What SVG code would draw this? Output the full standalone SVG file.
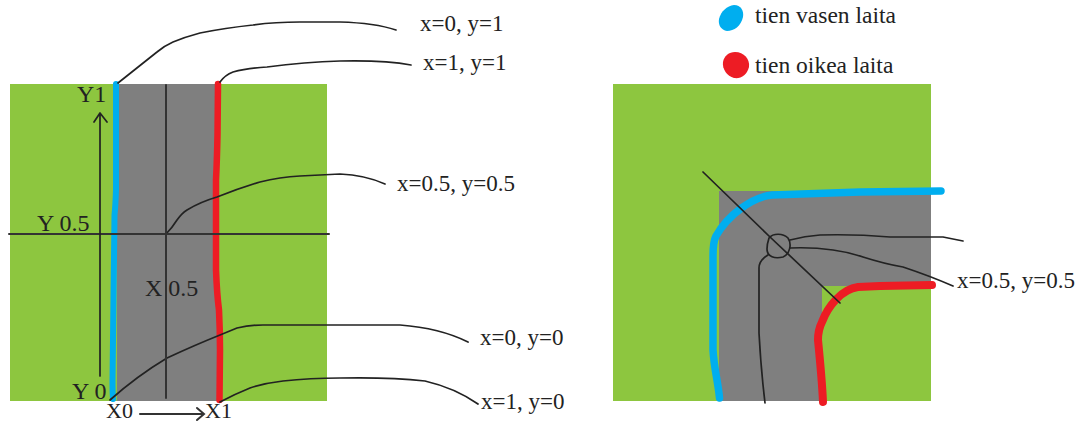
<svg xmlns="http://www.w3.org/2000/svg" width="1077" height="423" viewBox="0 0 1077 423">
<style>
.t{font-family:"Liberation Serif",serif;font-size:23px;fill:#222}
.c{font-size:24px}
.k{fill:none;stroke:#222;stroke-width:1.700;stroke-linecap:round;stroke-linejoin:round}
.kg{fill:none;stroke:#333;stroke-width:2;stroke-linecap:round}
.b{fill:none;stroke:#00aeef;stroke-linecap:round;stroke-linejoin:round}
.r{fill:none;stroke:#ed1c24;stroke-linecap:round;stroke-linejoin:round}
.g{fill:#8dc63f}
.d{fill:#7f7f7f}
</style>
<rect width="1077" height="423" fill="#fff"/>
<g id="left-road">
<rect class="g" x="10" y="84" width="317" height="317"/>
<rect class="d" x="117" y="84" width="100" height="317"/>
</g>
<g id="right-road">
<rect class="g" x="613" y="84" width="318" height="317"/>
<path class="d" d="M719 191H931V286H822V401H719Z"/>
</g>
<g id="connectors">
<path class="b" stroke-width="6" d="M116 84L116 190Q115.500 205 114.500 215L113.500 300L112.500 380Q112.500 392 113 399"/>
<path class="r" stroke-width="6.500" d="M218 84L217.500 135Q217 160 216 180L216 270Q217 295 219 310Q220 330 220 350L219.500 400"/>
<path class="k" d="M118 83L157 52Q164 46 173 42Q185 37 200 33Q225 28 253 25Q275 22 300 22L340 22Q375 23 396 30"/>
<path class="k" d="M220 82Q225 75 233 72Q247 68 267 67Q305 62 340 61Q385 60 411 65"/>
<path class="k" d="M166 234Q172 228 177 220Q182 213 187 210Q200 202 217 197Q240 188 260 182Q280 177 300 176L340 174Q365 175 385 184"/>
<path class="k" d="M110 400Q137 376 167 358Q195 345 220 335L237 328Q250 325 263 325L400 325Q440 328 468 342"/>
<path class="k" d="M220 402Q235 394 250 388Q265 383 283 381Q310 378 340 378Q390 377 425 381Q455 388 478 404"/>
<path class="kg" d="M9 234H329"/>
<path class="kg" d="M166 85V398" stroke-width="1.800"/>
<path class="k" d="M100 376V114M94 122L100 113L107 122"/>
<path class="kg" d="M140 414H203M197 408L204 414L197 420" stroke-width="1.500"/>
<path class="b" stroke-width="7.500" d="M941 191L860 192L772 195C752 197 728 215 716 236C713 242 713 248 713 256L713 350C714 368 718 382 719.500 398"/>
<path class="r" stroke-width="8" d="M932 285L880 286L858 287C842 289 828 306 822 322C819 328 818 333 818 340C820 360 822 380 823 402"/>
<path class="k" d="M703 172L770 237L840 303"/>
<path class="k" d="M769 238C773 233 783 233 788 238C792 244 790 254 783 257C775 259 767 257 767 249C767 245 768 241 769 238Z"/>
<path class="k" d="M790 240Q805 236 820 235Q855 234 890 237L943 237L963 241"/>
<path class="k" d="M790 248Q812 247 833 250Q848 252 863 257Q885 264 903 267Q930 276 953 286"/>
<path class="k" d="M768 255Q759 260 759 268L759 333Q761 370 765 403"/>
</g>
<g id="label-x0y1"><text class="t" x="420" y="31">x=0, y=1</text></g>
<g id="label-x1y1"><text class="t" x="423" y="70">x=1, y=1</text></g>
<g id="label-mid"><text class="t" x="397" y="191">x=0.5, y=0.5</text></g>
<g id="label-x0y0"><text class="t" x="480" y="345">x=0, y=0</text></g>
<g id="label-x1y0"><text class="t" x="481" y="409">x=1, y=0</text></g>
<g id="label-y1"><text class="t c" x="77" y="102">Y1</text></g>
<g id="label-y05"><text class="t c" x="37" y="231">Y 0.5</text></g>
<g id="label-y0"><text class="t c" x="72" y="399">Y 0</text></g>
<g id="label-x05"><text class="t c" x="145" y="296">X 0.5</text></g>
<g id="label-x0"><text class="t" style="font-size:22px" x="106" y="418">X0</text></g>
<g id="label-x1"><text class="t" style="font-size:22px" x="205" y="418">X1</text></g>
<g id="label-mid-right"><text class="t" x="957" y="288">x=0.5, y=0.5</text></g>
<g id="legend-blue">
<path fill="#00aeef" d="M734 5C741 5 744 11 743 17C741 26 734 31 727 31C721 30 718 25 719 19C721 11 727 6 734 5Z"/>
<text class="t" style="font-size:23.500px" x="755" y="23">tien vasen laita</text>
</g>
<g id="legend-red">
<path fill="#ed1c24" d="M735 52C744 52 750 59 749 67C747 75 741 79 734 78C727 76 722 69 723 62C724 56 729 52 735 52Z"/>
<text class="t" style="font-size:23.500px" x="755" y="73">tien oikea laita</text>
</g>
</svg>
